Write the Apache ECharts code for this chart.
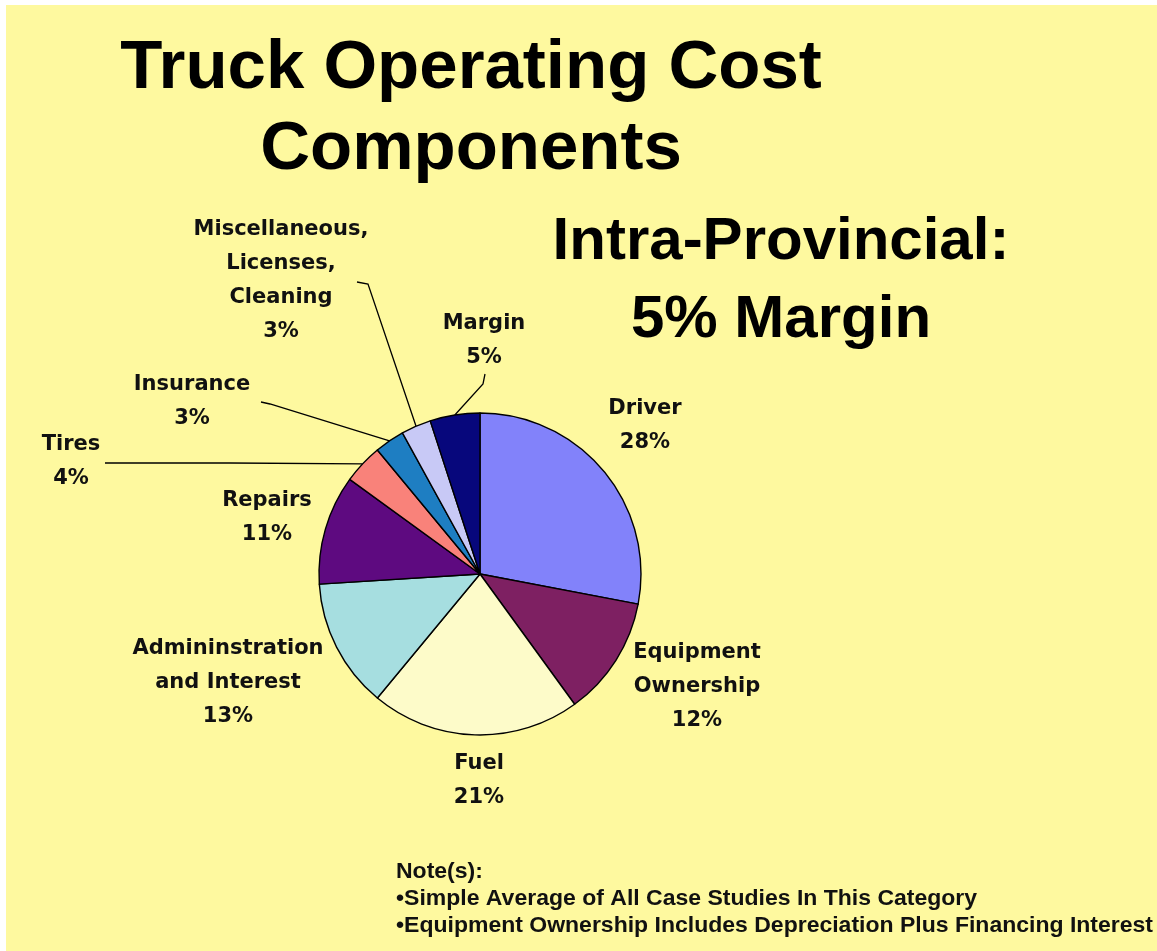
<!DOCTYPE html>
<html>
<head>
<meta charset="utf-8">
<title>Truck Operating Cost Components</title>
<script src="https://cdn.jsdelivr.net/npm/echarts@6/dist/echarts.min.js"></script>
<style>
  html, body { margin: 0; padding: 0; background: #ffffff; }
  #chart { width: 1157px; height: 951px; }
</style>
</head>
<body>
<div id="chart"></div>
<script>
// ---- data ----
const categories = [
  'Driver',
  'Equipment\nOwnership',
  'Fuel',
  'Admininstration\nand Interest',
  'Repairs',
  'Tires',
  'Insurance',
  'Miscellaneous,\nLicenses,\nCleaning',
  'Margin'
];
const shares = [28, 12, 21, 13, 11, 4, 3, 3, 5];

const titleLines = ['Truck Operating Cost', 'Components'];
const subtitleLines = ['Intra-Provincial:', '5% Margin'];
const noteLines = [
  'Note(s):',
  '\u2022Simple Average of All Case Studies In This Category',
  '\u2022Equipment Ownership Includes Depreciation Plus Financing Interest'
];

// ---- styling ----
const sliceColors = [
  '#8282FA', '#7E2062', '#FDFBC9', '#A6DEE0', '#5E0A80',
  '#F9827A', '#1E7EC2', '#C8C9F6', '#07077C'
];
const pageYellow = '#FEF99F';

// label block centres, plus the bend/end points of leader lines
const labelSpots = [
  { x: 645, y: 426 },
  { x: 697, y: 687 },
  { x: 479, y: 781 },
  { x: 228, y: 683 },
  { x: 267, y: 518 },
  { x: 71,  y: 462, lead: [[230, 463], [105, 463]] },
  { x: 192, y: 402, lead: [[270, 404], [261, 402]] },
  { x: 281, y: 281, lead: [[368, 284], [357, 282]] },
  { x: 484, y: 341, lead: [[483, 384], [485, 374]] }
];

const chart = echarts.init(document.getElementById('chart'), null, { renderer: 'canvas' });

// width-fit helper for the condensed note lines
function measure(text, font) {
  const ctx = document.createElement('canvas').getContext('2d');
  ctx.font = font;
  return ctx.measureText(text).width;
}
const noteFont = 'bold 22px "Liberation Sans Narrow", "Liberation Sans", Arial, sans-serif';
const noteScale = 757 / measure(noteLines[2], noteFont);

const pieData = categories.map((name, i) => ({
  name: name,
  value: shares[i],
  itemStyle: { color: sliceColors[i] },
  labelLine: { show: !!labelSpots[i].lead }
}));

const noteY = [872, 899, 926];

chart.setOption({
  backgroundColor: '#ffffff',
  animation: false,
  graphic: [
    {
      type: 'rect',
      z: -10,
      silent: true,
      shape: { x: 6, y: 5, width: 1151, height: 946 },
      style: { fill: pageYellow }
    },
    {
      type: 'text',
      x: 471, y: 109,
      style: {
        text: titleLines.join('\n'),
        font: 'bold 69px "Liberation Sans", Arial, sans-serif',
        lineHeight: 81,
        fill: '#000',
        align: 'center',
        verticalAlign: 'middle'
      }
    },
    {
      type: 'text',
      x: 781, y: 281,
      style: {
        text: subtitleLines.join('\n'),
        font: 'bold 60px "Liberation Sans", Arial, sans-serif',
        lineHeight: 78,
        fill: '#000',
        align: 'center',
        verticalAlign: 'middle'
      }
    }
  ].concat(noteLines.map((t, i) => ({
    type: 'text',
    x: 396, y: noteY[i],
    scaleX: noteScale,
    style: {
      text: t,
      font: noteFont,
      fill: '#111',
      align: 'left',
      verticalAlign: 'middle'
    }
  }))),
  series: [{
    type: 'pie',
    center: [480, 574],
    radius: 161,
    startAngle: 90,
    clockwise: true,
    avoidLabelOverlap: false,
    data: pieData,
    itemStyle: { borderColor: '#000', borderWidth: 1.4 },
    label: {
      show: true,
      position: 'outside',
      formatter: '{b}\n{d}%',
      fontFamily: '"DejaVu Sans", Verdana, sans-serif',
      fontWeight: 'bold',
      fontSize: 21,
      lineHeight: 34,
      color: '#111',
      align: 'center'
    },
    labelLine: {
      show: true,
      lineStyle: { color: '#000', width: 1.3 }
    },
    emphasis: { disabled: true },
    labelLayout: function (p) {
      const spot = labelSpots[p.dataIndex];
      const out = { x: spot.x, y: spot.y, align: 'center', verticalAlign: 'middle' };
      if (spot.lead && p.labelLinePoints && p.labelLinePoints.length) {
        out.labelLinePoints = [p.labelLinePoints[0]].concat(spot.lead);
      }
      return out;
    }
  }]
});
</script>
</body>
</html>
